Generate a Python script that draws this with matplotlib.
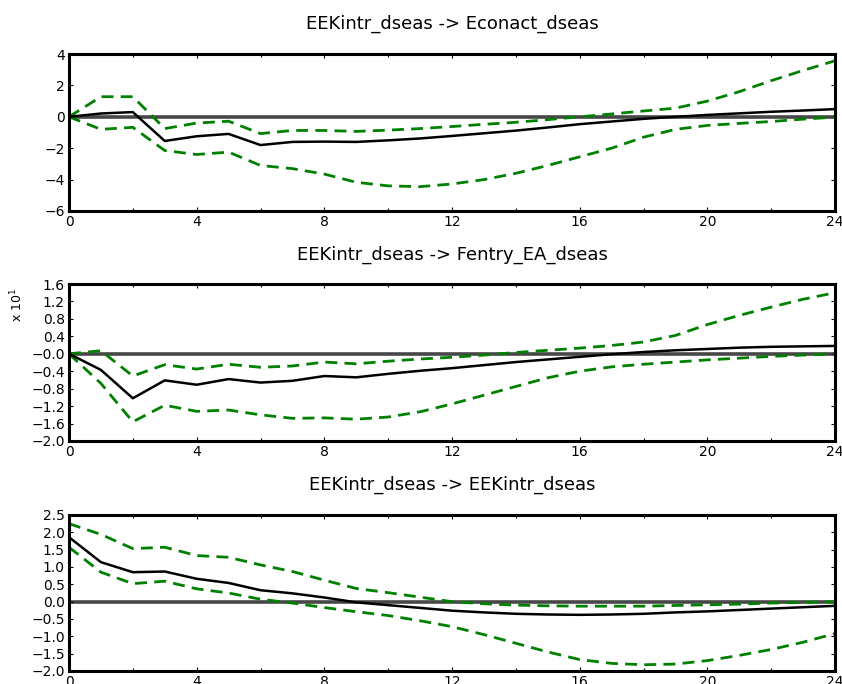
import numpy as np
import matplotlib
matplotlib.use("Agg")
import matplotlib.pyplot as plt
from matplotlib.ticker import MultipleLocator

plt.rcParams['font.family'] = ['DejaVu Sans']

steps = list(range(25))

titles = ["EEKintr_dseas -> Econact_dseas",
          "EEKintr_dseas -> Fentry_EA_dseas",
          "EEKintr_dseas -> EEKintr_dseas"]

# panel 1: response of Econact_dseas
resp1 = [0.0, 0.21, 0.3, -1.54, -1.24, -1.09, -1.8, -1.6, -1.58, -1.6, -1.5, -1.38, -1.22,
         -1.05, -0.88, -0.68, -0.47, -0.3, -0.13, 0.0, 0.12, 0.22, 0.32, 0.4, 0.49]
upper1 = [0.0, 1.28, 1.28, -0.75, -0.4, -0.28, -1.07, -0.87, -0.87, -0.93, -0.85, -0.75, -0.62,
          -0.48, -0.35, -0.18, 0.0, 0.18, 0.37, 0.55, 1.0, 1.6, 2.3, 2.95, 3.57]
lower1 = [0.0, -0.8, -0.67, -2.15, -2.4, -2.25, -3.1, -3.3, -3.65, -4.17, -4.4, -4.45, -4.28,
          -4.0, -3.6, -3.1, -2.55, -2.0, -1.3, -0.8, -0.55, -0.42, -0.3, -0.15, -0.02]

# panel 2: response of Fentry_EA_dseas (x 10^1)
resp2 = [0.0, -0.37, -1.02, -0.61, -0.71, -0.58, -0.66, -0.62, -0.51, -0.54, -0.46, -0.39, -0.33,
         -0.26, -0.19, -0.13, -0.07, -0.01, 0.04, 0.08, 0.11, 0.14, 0.16, 0.17, 0.18]
upper2 = [0.0, 0.07, -0.51, -0.25, -0.35, -0.24, -0.31, -0.28, -0.19, -0.23, -0.17, -0.12, -0.08,
          -0.03, 0.03, 0.08, 0.13, 0.19, 0.27, 0.42, 0.67, 0.88, 1.07, 1.25, 1.4]
lower2 = [0.0, -0.68, -1.56, -1.18, -1.32, -1.29, -1.4, -1.48, -1.47, -1.5, -1.45, -1.33, -1.15,
          -0.95, -0.75, -0.55, -0.4, -0.3, -0.24, -0.19, -0.14, -0.1, -0.06, -0.03, 0.0]

# panel 3: response of EEKintr_dseas
resp3 = [1.86, 1.14, 0.85, 0.87, 0.66, 0.54, 0.33, 0.24, 0.12, -0.02, -0.1, -0.18, -0.26,
         -0.31, -0.35, -0.37, -0.38, -0.37, -0.35, -0.31, -0.28, -0.24, -0.2, -0.16, -0.12]
upper3 = [2.25, 1.94, 1.53, 1.57, 1.33, 1.28, 1.06, 0.87, 0.62, 0.38, 0.26, 0.13, 0.0,
          -0.06, -0.1, -0.12, -0.13, -0.13, -0.13, -0.11, -0.09, -0.07, -0.04, -0.02, 0.0]
lower3 = [1.57, 0.85, 0.52, 0.59, 0.37, 0.25, 0.07, -0.04, -0.17, -0.29, -0.4, -0.55, -0.72,
          -0.95, -1.2, -1.45, -1.67, -1.78, -1.82, -1.8, -1.7, -1.55, -1.38, -1.17, -0.92]

yticks = [[-6, -4, -2, 0, 2, 4],
          [-2.0, -1.6, -1.2, -0.8, -0.4, 0.0, 0.4, 0.8, 1.2, 1.6],
          [-2.0, -1.5, -1.0, -0.5, 0.0, 0.5, 1.0, 1.5, 2.0, 2.5]]
ylabels = [["\u22126", "\u22124", "\u22122", "0", "2", "4"],
           ["\u22122.0", "\u22121.6", "\u22121.2", "\u22120.8", "\u22120.4", "\u22120.0",
            "0.4", "0.8", "1.2", "1.6"],
           ["\u22122.0", "\u22121.5", "\u22121.0", "\u22120.5", "0.0", "0.5", "1.0", "1.5",
            "2.0", "2.5"]]

resps = [resp1, resp2, resp3]
uppers = [upper1, upper2, upper3]
lowers = [lower1, lower2, lower3]

fig = plt.figure(figsize=(8.42, 6.84), dpi=100)
W, H = 842.0, 684.0
tops = [54, 284, 515]
bots = [211, 441, 671]
title_y = [24, 255, 485]

for i in range(3):
    ax = fig.add_axes([69 / W, 1 - bots[i] / H, 766 / W, (bots[i] - tops[i]) / H])
    ax.axhline(0, color='#474747', lw=2.6, zorder=1)
    ax.plot(steps, resps[i], color='black', lw=1.8, zorder=3)
    ax.plot(steps, uppers[i], color='#008000', lw=2.0, dashes=(4.3, 2.6), zorder=2)
    ax.plot(steps, lowers[i], color='#008000', lw=2.0, dashes=(4.3, 2.6), zorder=2)
    ax.set_xlim(0, 24)
    ax.set_ylim(yticks[i][0], yticks[i][-1])
    ax.set_xticks([0, 4, 8, 12, 16, 20, 24])
    ax.xaxis.set_minor_locator(MultipleLocator(2))
    ax.set_yticks(yticks[i])
    ax.set_yticklabels(ylabels[i])
    ax.tick_params(direction='in', top=True, right=True, length=3, width=0.8,
                   labelsize=10, pad=3)
    ax.tick_params(which='minor', direction='in', top=True, length=2, width=0.8)
    for s in ax.spines.values():
        s.set_linewidth(2.2)
    fig.text(452 / W, 1 - title_y[i] / H, titles[i], ha='center', va='center', fontsize=13)

fig.text(17 / W, 1 - 305 / H, "x 10$^1$", rotation=90, ha='center', va='center', fontsize=9)

fig.savefig("out.png", dpi=100)
